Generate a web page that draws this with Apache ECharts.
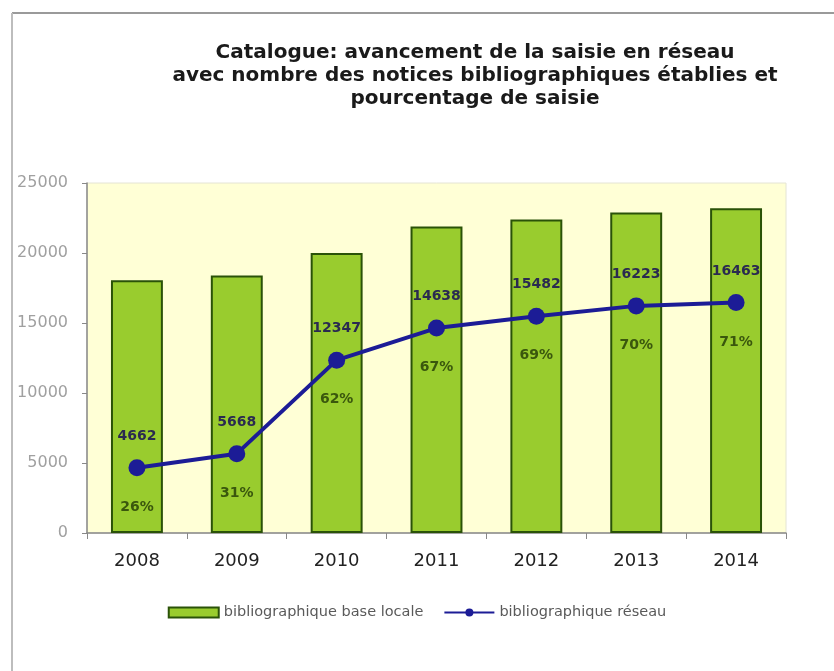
<!DOCTYPE html>
<html>
<head>
<meta charset="utf-8">
<script src="https://cdn.jsdelivr.net/npm/echarts@6/dist/echarts.min.js"></script>
<style>
  html, body { margin: 0; padding: 0; background: #ffffff; }
  #chart { width: 834px; height: 671px; }
</style>
</head>
<body>
<div id="chart"></div>
<script>
// Years on the category axis
const years = ['2008', '2009', '2010', '2011', '2012', '2013', '2014'];
// Records in the local catalogue
const localRecords = [18050, 18400, 20000, 21900, 22400, 22900, 23200];
// Records entered in the network catalogue
const networkRecords = [4662, 5668, 12347, 14638, 15482, 16223, 16463];
// Share of records entered in the network
const networkShare = ['26%', '31%', '62%', '67%', '69%', '70%', '71%'];
// Value axis ticks
const yTicks = [0, 5000, 10000, 15000, 20000, 25000];

const FONT = 'DejaVu Sans, Verdana, sans-serif';
const chart = echarts.init(document.getElementById('chart'));

chart.setOption({
  backgroundColor: '#ffffff',
  animation: false,
  title: {
    text: 'Catalogue: avancement de la saisie en réseau\navec nombre des notices bibliographiques établies et\npourcentage de saisie',
    left: 470,
    top: 36,
    textAlign: 'center',
    textStyle: {
      fontFamily: FONT,
      fontSize: 20,
      fontWeight: 'bold',
      color: '#1a1a1a',
      lineHeight: 23
    }
  },
  legend: {
    top: 600,
    left: 'center',
    itemGap: 20,
    itemWidth: 50,
    itemHeight: 10,
    textStyle: { fontFamily: FONT, fontSize: 14.5, color: '#5a5a5a' },
    data: [
      { name: 'bibliographique base locale', icon: 'rect' },
      { name: 'bibliographique réseau' }
    ]
  },
  grid: {
    left: 87, right: 48, top: 183, bottom: 138,
    show: true,
    backgroundColor: '#ffffd6',
    borderColor: '#e4e4d4',
    borderWidth: 1
  },
  xAxis: {
    type: 'category',
    data: years,
    boundaryGap: true,
    axisLine: { lineStyle: { color: '#888', width: 1.5 } },
    axisTick: { show: true, length: 6, lineStyle: { color: '#888' } },
    axisLabel: {
      margin: 19,
      fontFamily: FONT,
      fontSize: 18,
      color: '#222'
    }
  },
  yAxis: {
    type: 'value',
    min: yTicks[0],
    max: yTicks[yTicks.length - 1],
    interval: 5000,
    axisLine: { show: true, lineStyle: { color: '#888', width: 1.5 } },
    axisTick: { show: true, length: 5, lineStyle: { color: '#888' } },
    splitLine: { show: false },
    axisLabel: {
      margin: 19,
      formatter: v => String(v),
      fontFamily: FONT,
      fontSize: 16,
      color: '#a0a0a0'
    }
  },
  series: [
    {
      name: 'bibliographique base locale',
      type: 'bar',
      data: localRecords,
      barWidth: '52%',
      itemStyle: { color: '#99cc2e', borderColor: '#2a5208', borderWidth: 2 }
    },
    {
      name: 'bibliographique réseau',
      type: 'line',
      data: networkRecords,
      smooth: false,
      symbol: 'circle',
      symbolSize: 17,
      lineStyle: { color: '#1c1c96', width: 4 },
      itemStyle: { color: '#1c1c96' },
      label: {
        show: true,
        position: 'top',
        distance: 16,
        fontFamily: FONT,
        fontSize: 14,
        fontWeight: 'bold',
        color: '#2a2a50'
      },
      z: 3
    },
    {
      // percentage labels placed under each network point
      name: 'share',
      type: 'scatter',
      data: networkRecords,
      symbolSize: 1,
      itemStyle: { color: 'rgba(0,0,0,0)' },
      label: {
        show: true,
        position: 'bottom',
        distance: 32,
        formatter: p => networkShare[p.dataIndex],
        fontFamily: FONT,
        fontSize: 14,
        fontWeight: 'bold',
        color: '#223a05'
      },
      silent: true,
      z: 4
    }
  ],
  graphic: [
    { type: 'line', shape: { x1: 12, y1: 13, x2: 834, y2: 13 }, style: { stroke: '#9a9a9a', lineWidth: 2 } },
    { type: 'line', shape: { x1: 12, y1: 13, x2: 12, y2: 671 }, style: { stroke: '#bdbdbd', lineWidth: 2 } }
  ]
});
</script>
</body>
</html>
